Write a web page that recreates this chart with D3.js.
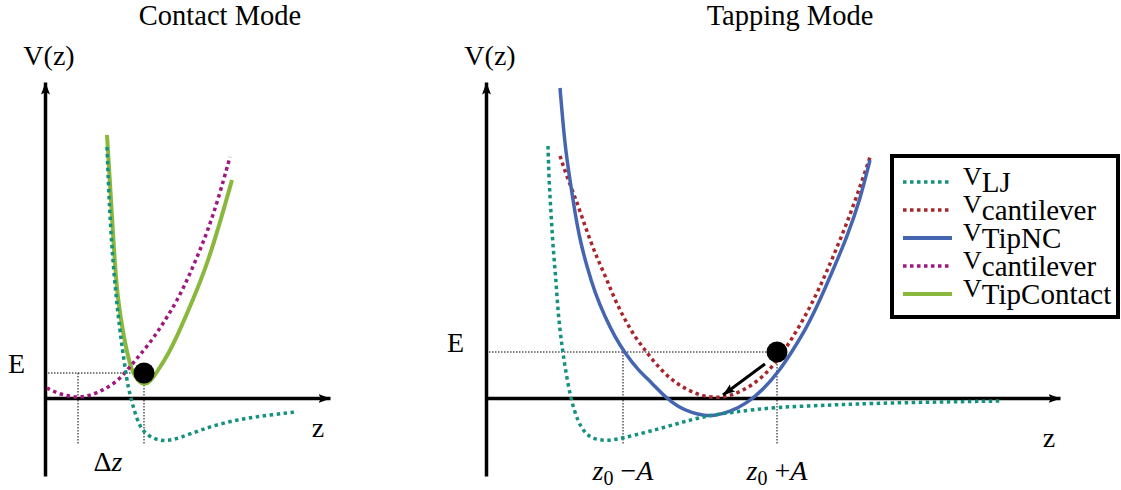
<!DOCTYPE html>
<html>
<head>
<meta charset="utf-8">
<script src="https://cdn.jsdelivr.net/npm/d3@7"></script>
<style>
  body { margin: 0; background: #fff; }
  svg text { font-family: "Liberation Serif", "DejaVu Serif", serif; fill: #000; }
</style>
</head>
<body>
<div id="chart"></div>
<script>
var width = 1121,
    height = 490;

// curve samples, [z, V]
var contactLJ = [[6.2,25.1],[6.4,19.8],[6.8,13.1],[7.5,6.5],[8.0,3.1],[8.3,1.1],[8.7,-0.4],[9.0,-1.5],[9.5,-2.9],[10.2,-3.7],[11.2,-4.2],[12.2,-4.3],[13.5,-4.0],[15.5,-3.2],[17.8,-2.5],[20.2,-2.0],[22.5,-1.7],[25.0,-1.4]];
var contactCantilever = [[0.2,1.0],[1.5,0.35],[3.3,0],[4.7,0.3],[5.8,0.8],[7.0,1.5],[8.0,2.5],[8.8,3.5],[9.5,4.3],[10.3,5.3],[11.2,6.5],[13.3,9.8],[14.8,13.1],[16.2,16.5],[17.3,19.8],[18.5,24.1]];
var contactTip = [[6.2,26.3],[6.4,23.1],[6.6,19.8],[7.0,13.1],[7.3,9.8],[7.8,6.5],[8.5,3.1],[9.2,1.8],[9.9,1.3],[10.5,1.6],[11.2,2.6],[12.4,4.5],[13.4,6.6],[14.8,9.8],[16.1,13.1],[17.2,16.5],[18.7,21.8]];

var tapLJ = [[6.2,25.2],[6.3,21.8],[6.5,18.5],[6.7,15.1],[7.0,11.8],[7.2,8.5],[7.6,5.1],[8.0,2.5],[8.5,-0.2],[9.2,-2.4],[9.9,-3.5],[10.7,-4.1],[12.1,-4.3],[13.7,-4.0],[16.1,-3.4],[18.7,-2.7],[21.4,-1.9],[24.7,-1.4],[29.1,-0.9],[34.7,-0.7],[39.4,-0.5],[51.4,-0.3]];
var tapCantilever = [[7.4,24.2],[8.1,22.1],[8.9,20.1],[9.6,18.1],[10.4,15.8],[11.2,13.8],[12.1,11.8],[12.9,9.8],[13.9,7.8],[14.9,6.1],[15.9,4.8],[16.9,3.5],[18.2,2.1],[19.6,1.1],[21.4,0.2],[23.4,0],[24.7,0.3],[26.4,1.1],[28.1,2.5],[29.4,4.1],[30.7,6.1],[32.1,8.5],[33.4,11.1],[34.7,14.1],[36.1,17.5],[37.4,21.1],[38.4,24.1]];
var tapTip = [[7.4,31.0],[7.9,25.1],[8.4,21.8],[8.9,18.5],[9.4,15.8],[10.1,13.1],[10.9,10.5],[11.9,8.1],[12.9,6.1],[13.9,4.5],[15.2,2.8],[16.6,1.5],[17.9,0.1],[19.2,-0.9],[20.6,-1.5],[21.9,-1.75],[22.7,-1.8],[24.4,-1.4],[26.1,-0.5],[27.7,0.8],[29.4,2.8],[30.7,4.8],[32.1,7.1],[33.4,9.8],[34.7,12.8],[36.1,16.1],[37.4,19.8],[38.4,23.8]];

// markers
var contactE = 2.5, contactBallZ = 9.9, contactZeroZ = 3.3;
var tapE = 4.6, tapLeftZ = 13.7, tapBallZ = 29.1;
var tapArrow = [[27.9,3.4],[23.7,0.3]];
var guideBottom = -4.7;

var titles = ["Contact Mode", "Tapping Mode"];
var legendSubs = ["LJ", "cantilever", "TipNC", "cantilever", "TipContact"];
var legendColors = ["#15917f", "#a8262b", "#4565b0", "#a0187f", "#8ab83c"];
var legendDotted = [true, true, false, true, false];

var y = d3.scaleLinear().domain([-7.8, 31.6]).range([476, 82]);
var xL = d3.scaleLinear().domain([0, 28.5]).range([45, 330]);
var xR = d3.scaleLinear().domain([0, 57.4]).range([486, 1060]);

const svg = d3.select('#chart').
append('svg').
attr('width', width).
attr('height', height);

svg.append('defs').append('marker').
attr('id', 'head').
attr('viewBox', '0 -5 12 10').
attr('refX', 12).
attr('refY', 0).
attr('markerWidth', 12).
attr('markerHeight', 10).
attr('markerUnits', 'userSpaceOnUse').
attr('orient', 'auto').
append('path').
attr('d', 'M0,-4.5L12,0L0,4.5L2.5,0Z').
attr('fill', '#000');

function panel(x, yLabel, title, titleX) {
  var g = svg.append('g');
  var line = d3.line().x(d => x(d[0])).y(d => y(d[1])).curve(d3.curveBasis);

  // axes, no ticks
  g.append('g').attr('transform', 'translate(0,' + y(0) + ')').
  call(d3.axisBottom(x).tickValues([]).tickSizeOuter(0));
  g.append('g').attr('transform', 'translate(' + x(0) + ',0)').
  call(d3.axisLeft(y).tickValues([]).tickSizeOuter(0));
  g.selectAll('.domain').
  attr('stroke', '#000').
  attr('stroke-width', 3.5).
  attr('marker-end', 'url(#head)');

  g.append('text').attr('x', x(0) + 4).attr('y', 65).
  attr('text-anchor', 'middle').style('font-size', '28px').text(yLabel);
  g.append('text').attr('x', titleX).attr('y', 25).
  attr('text-anchor', 'middle').style('font-size', '28.5px').text(title);
  return {g: g, line: line};
}

function guide(g, pts) {
  g.append('path').
  attr('d', d3.line()(pts)).
  attr('fill', 'none').
  attr('stroke', '#000').
  attr('stroke-width', 1).
  attr('stroke-dasharray', '1.5,1.5');
}

function curve(p, data, color, dotted, w) {
  p.g.append('path').
  datum(data).
  attr('d', p.line).
  attr('fill', 'none').
  attr('stroke', color).
  attr('stroke-width', w).
  attr('stroke-dasharray', dotted ? '3.5,3.5' : null);
}

// ---- contact mode
var left = panel(xL, 'V(z)', titles[0], 220);
guide(left.g, [[xL(0), y(contactE)], [xL(contactBallZ), y(contactE)]]);
guide(left.g, [[xL(contactZeroZ), y(contactE)], [xL(contactZeroZ), y(guideBottom)]]);
guide(left.g, [[xL(contactBallZ), y(contactE)], [xL(contactBallZ), y(guideBottom)]]);
curve(left, contactTip, legendColors[4], false, 4);
curve(left, contactCantilever, legendColors[3], true, 3.5);
curve(left, contactLJ, legendColors[0], true, 3.5);
left.g.append('circle').attr('cx', xL(contactBallZ)).attr('cy', y(contactE)).attr('r', 10.5).attr('fill', '#000');

left.g.append('text').attr('x', xL(0) - 20).attr('y', y(contactE)).
attr('text-anchor', 'end').style('font-size', '28px').text('E');
var dz = left.g.append('text').attr('x', xL((contactZeroZ + contactBallZ) / 2) - 3).attr('y', 471).
attr('text-anchor', 'middle').style('font-size', '28px');
dz.append('tspan').text('Δ');
dz.append('tspan').style('font-style', 'italic').text('z');
left.g.append('text').attr('x', 318).attr('y', 437).
attr('text-anchor', 'middle').style('font-size', '28px').text('z');

// ---- tapping mode
var right = panel(xR, 'V(z)', titles[1], 790);
guide(right.g, [[xR(0), y(tapE)], [xR(tapBallZ), y(tapE)]]);
guide(right.g, [[xR(tapLeftZ), y(tapE)], [xR(tapLeftZ), y(guideBottom)]]);
guide(right.g, [[xR(tapBallZ), y(tapE)], [xR(tapBallZ), y(guideBottom)]]);
curve(right, tapCantilever, legendColors[1], true, 3.5);
curve(right, tapTip, legendColors[2], false, 3.5);
curve(right, tapLJ, legendColors[0], true, 3.5);
right.g.append('circle').attr('cx', xR(tapBallZ)).attr('cy', y(tapE)).attr('r', 10.5).attr('fill', '#000');
right.g.append('path').
attr('d', d3.line()(tapArrow.map(d => [xR(d[0]), y(d[1])]))).
attr('stroke', '#000').
attr('stroke-width', 3).
attr('marker-end', 'url(#head)');

right.g.append('text').attr('x', xR(0) - 22).attr('y', y(tapE)).
attr('text-anchor', 'end').style('font-size', '28px').text('E');
right.g.append('text').attr('x', 1049).attr('y', 447).
attr('text-anchor', 'middle').style('font-size', '28px').text('z');

function zLabel(zv, sign) {
  var t = right.g.append('text').attr('x', xR(zv)).attr('y', 480).
  attr('text-anchor', 'middle').style('font-size', '28px');
  t.append('tspan').style('font-style', 'italic').text('z');
  t.append('tspan').attr('dy', 5).style('font-size', '20px').text('0');
  t.append('tspan').attr('dy', -5).text(' ' + sign);
  t.append('tspan').style('font-style', 'italic').text('A');
}
zLabel(tapLeftZ, '\u2212');
zLabel(tapBallZ, '+');

// ---- legend
var lg = svg.append('g').attr('transform', 'translate(892,156)');
lg.append('rect').attr('width', 226).attr('height', 161).
attr('fill', '#fff').attr('stroke', '#000').attr('stroke-width', 4);
var rows = lg.selectAll('.row').data(legendSubs).enter().append('g').
attr('transform', (d, i) => 'translate(0,' + (26 + i * 28) + ')');
rows.append('line').attr('x1', 11).attr('x2', 60).
attr('stroke', (d, i) => legendColors[i]).
attr('stroke-width', (d, i) => legendDotted[i] ? 3.5 : 4).
attr('stroke-dasharray', (d, i) => legendDotted[i] ? '3.5,3.5' : null);
var lt = rows.append('text').attr('x', 71).attr('y', 3);
lt.append('tspan').style('font-size', '26px').text('V');
lt.append('tspan').attr('dy', 7).style('font-size', '29px').text(d => d);
</script>
</body>
</html>
